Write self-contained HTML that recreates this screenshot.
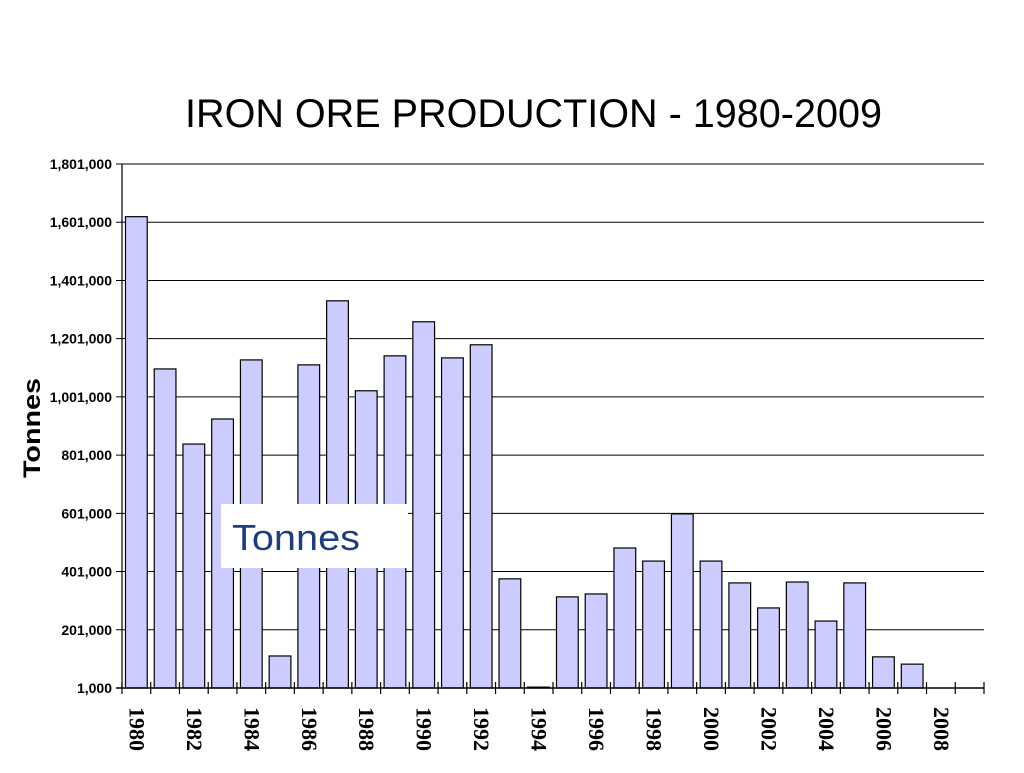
<!DOCTYPE html>
<html><head><meta charset="utf-8"><style>
body{margin:0;background:#fff;width:1024px;height:768px;overflow:hidden}
</style></head><body>
<svg width="1024" height="768" xmlns="http://www.w3.org/2000/svg">
<text x="185" y="127" textLength="697" lengthAdjust="spacingAndGlyphs" font-family="Liberation Sans, sans-serif" font-size="40">IRON ORE PRODUCTION - 1980-2009</text>
<text transform="translate(40,428) rotate(-90)" text-anchor="middle" textLength="100" lengthAdjust="spacingAndGlyphs" font-family="Liberation Sans, sans-serif" font-size="24" font-weight="bold">Tonnes</text>
<g id="grid"></g><g id="bars"></g><g id="axes"></g>
<rect x="221" y="504" width="187" height="64" fill="#fff"/>
<text x="232" y="550" textLength="128" lengthAdjust="spacingAndGlyphs" font-family="Liberation Sans, sans-serif" font-size="36" fill="#1f3f7a">Tonnes</text>
</svg>
<script>
const years=[1980,1981,1982,1983,1984,1985,1986,1987,1988,1989,1990,1991,1992,1993,1994,1995,1996,1997,1998,1999,2000,2001,2002,2003,2004,2005,2006,2007,2008,2009];
const values=[1620000,1097000,839000,925000,1128000,111000,1111000,1331000,1022000,1142000,1259000,1135000,1180000,376000,4000,314000,324000,482000,437000,599000,437000,362000,276000,365000,231000,362000,108000,83000,0,0];
const yTicks=[1000,201000,401000,601000,801000,1001000,1201000,1401000,1601000,1801000];
const X0=122,X1=984,Y0=688,Y1=164,yMin=1000,yMax=1801000;
const ns="http://www.w3.org/2000/svg";
const sw=(X1-X0)/years.length;
function y(v){return Y0-(Math.max(v,yMin)-yMin)/(yMax-yMin)*(Y0-Y1);}
function x(i){return X0+i*sw;}
function mk(t,a,p){const e=document.createElementNS(ns,t);for(const k in a)e.setAttribute(k,a[k]);p.appendChild(e);return e;}
const grid=document.getElementById('grid'),bars=document.getElementById('bars'),axes=document.getElementById('axes');
yTicks.forEach(v=>{
 const l=mk('line',{x1:X0-6,x2:X1,y1:y(v),y2:y(v),stroke:'#000','stroke-width':1},grid);
 
 
 const t=mk('text',{x:X0-10,y:y(v)+5,'text-anchor':'end','font-family':'Liberation Sans, sans-serif','font-size':14,'font-weight':'bold'},axes);
 t.textContent=v.toLocaleString('en-US');
 
 
});
years.forEach((yr,i)=>{
 const v=values[i];
 if(v>yMin){
  const r=mk('rect',{x:x(i)+3.5,y:y(v),width:sw-7,height:Y0-y(v),fill:'#ccccff',stroke:'#000','stroke-width':1.2},bars);
  
  
 }
 if(i%2===0){
  const cx=x(i)+sw/2;
  const t=mk('text',{transform:'translate('+(cx-7)+',707) rotate(90)','font-family':'Liberation Serif, serif','font-size':22,'font-weight':'bold'},axes);
  t.textContent=yr;
  
  
 }
});
for(let i=0;i<=years.length;i++){
 const tk=mk('line',{x1:x(i),x2:x(i),y1:Y0-6,y2:Y0+6,stroke:'#000','stroke-width':1.2},axes);
 
 
}
const ya=mk('line',{x1:X0,x2:X0,y1:Y1,y2:Y0,stroke:'#000','stroke-width':1.2},axes);


const xa=mk('line',{x1:X0-6,x2:X1,y1:Y0,y2:Y0,stroke:'#000','stroke-width':1.5},axes);


</script>
</body></html>
